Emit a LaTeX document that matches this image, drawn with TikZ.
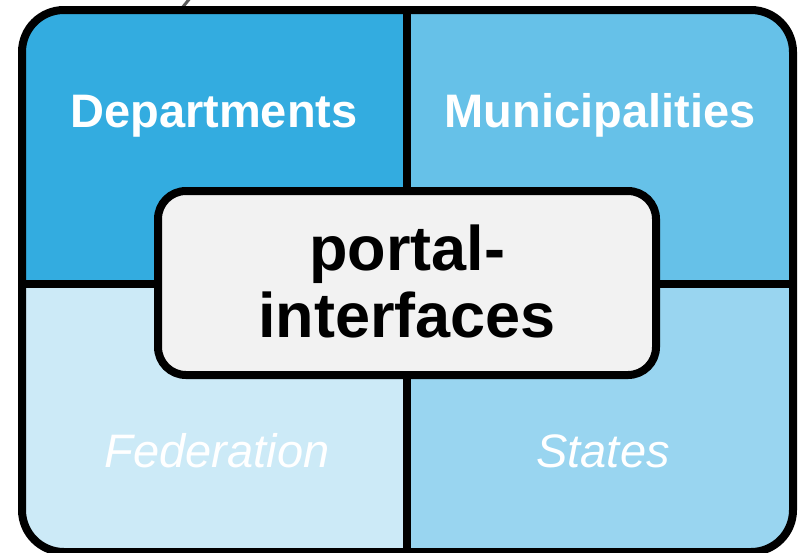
\documentclass[tikz,border=0pt]{standalone}
\usepackage{fontspec}
\setmainfont{Liberation Sans}
\definecolor{qdep}{HTML}{33ACE0}
\definecolor{qmun}{HTML}{66C1E8}
\definecolor{qfed}{HTML}{CCEAF7}
\definecolor{qsta}{HTML}{99D5F0}
\definecolor{cbox}{HTML}{F2F2F2}
\definecolor{gline}{HTML}{5A5A5A}
\tikzset{
  border/.style={line width=8pt, draw=black},
  qlabel/.style={anchor=base, text=white, font=\fontsize{47}{50}\selectfont\bfseries, inner sep=0pt},
  qlabelit/.style={anchor=base, text=white, font=\fontsize{47}{50}\selectfont\itshape, inner sep=0pt},
  clabel/.style={anchor=base, text=black, font=\fontsize{63}{67}\selectfont\bfseries, inner sep=0pt},
}
\begin{document}
\begin{tikzpicture}[x=1pt,y=-1pt]
\useasboundingbox (0,0) rectangle (799,552);
% stub of a connector above the frame
\coordinate (g1) at (182,8);
\coordinate (g2) at (191,-3);
\draw[gline, line width=3pt] (g1) -- (g2);
% quadrants
\begin{scope}
\clip[rounded corners=42pt] (22,10) rectangle (793,552);
\fill[qdep] (22,10) rectangle (407,284);
\fill[qmun] (407,10) rectangle (793,284);
\fill[qfed] (22,284) rectangle (407,552);
\fill[qsta] (407,284) rectangle (793,552);
\end{scope}
\coordinate (vt) at (407,10);
\coordinate (vb) at (407,552);
\coordinate (hl) at (22,284);
\coordinate (hr) at (793,284);
\draw[border] (vt) -- (vb);
\draw[border] (hl) -- (hr);
\draw[border, rounded corners=42pt] (22,10) rectangle (793,552);
% labels
\node[qlabel] (dep) at (214,127) {Departments};
\node[qlabel] (mun) at (600,127) {Municipalities};
\node[qlabelit] (fed) at (217,467) {Federation};
\node[qlabelit] (sta) at (603,467) {States};
% centre box
\draw[border, fill=cbox, rounded corners=28pt] (158,191) rectangle (656,375);
\node[clabel] (p1) at (407,270) {portal-};
\node[clabel] (p2) at (407,337) {interfaces};
\end{tikzpicture}
\end{document}
